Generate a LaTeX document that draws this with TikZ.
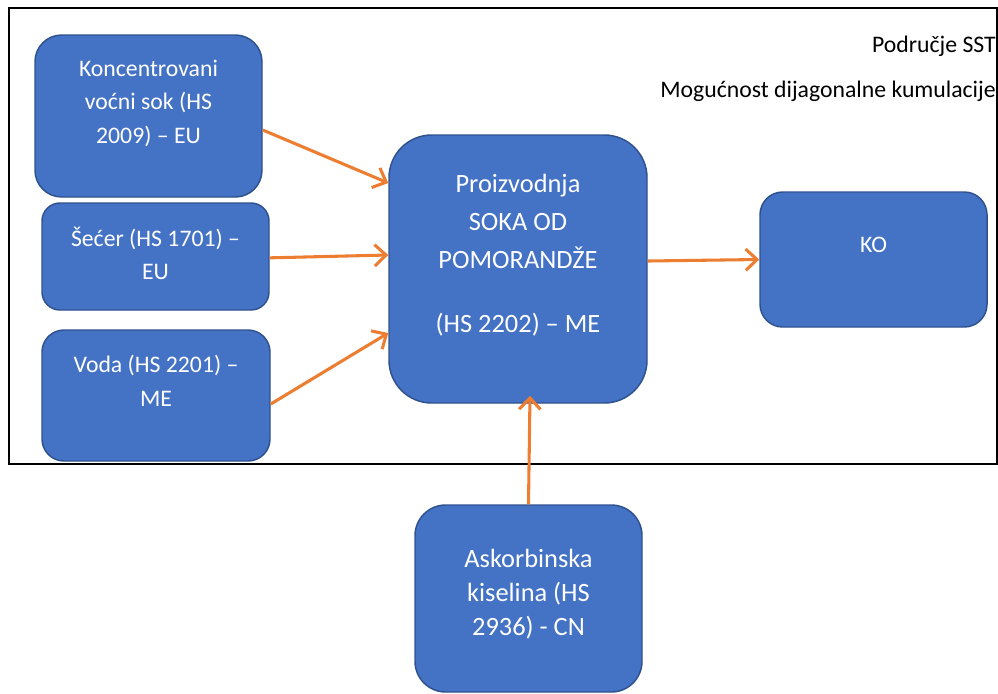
\documentclass[tikz,border=0pt]{standalone}
\usepackage{fontspec}
\setmainfont{Carlito}
\usetikzlibrary{arrows.meta}
\definecolor{boxblue}{HTML}{4472C4}
\definecolor{boxline}{HTML}{2F528F}
\definecolor{floworange}{HTML}{ED7D31}
\begin{document}
\begin{tikzpicture}[
  x=0.75pt,y=-0.75pt,
  box/.style={draw=boxline,fill=boxblue,line width=1.1pt,inner sep=0pt},
  boxtext/.style={text=white,align=center,inner sep=0pt,
    font=\fontsize{17.8}{25}\selectfont},
  flow/.style={draw=floworange,line width=2.3pt,
    -{Straight Barb[length=8.5pt,width=16pt,line width=2.3pt]}},
  ]
  \useasboundingbox (0,0) rectangle (998,693);
  % outer frame
  \draw[line width=1.6pt] (9,8) rectangle (997,464);
  \node(podrucje)[boxtext,text=black,anchor=east] at (996,46) {Područje SST};
  \node(kumulacija)[boxtext,text=black,anchor=east] at (996,91) {Mogućnost dijagonalne kumulacije};
  % inputs
  \node(konc)[box,rounded corners=20pt,minimum width={227*0.75pt},minimum height={162*0.75pt},
  label={[boxtext,yshift=9.5pt]center:{Koncentrovani\\voćni sok (HS\\2009) – EU}}] at (148.5,116) {};
  \node(secer)[box,rounded corners=13.5pt,minimum width={227*0.75pt},minimum height={107*0.75pt},
  label={[boxtext,yshift=2.5pt]center:{Šećer (HS 1701) –\\EU}}] at (155.5,256.5) {};
  \node(voda)[box,rounded corners=16.5pt,minimum width={228*0.75pt},minimum height={131*0.75pt},
  label={[boxtext,yshift=11pt]center:{Voda (HS 2201) –\\ME}}] at (156,395.5) {};
  % production
  \node(proiz)[box,rounded corners=32pt,minimum width={258*0.75pt},minimum height={268*0.75pt},
  label={[boxtext,yshift=10.5pt,font=\fontsize{19.8}{28.5}\selectfont]center:{Proizvodnja\\SOKA OD\\POMORANDŽE\\[-9pt]\\(HS 2202) – ME}}] at (518,269) {};
  \node(ko)[box,rounded corners=17pt,minimum width={227*0.75pt},minimum height={135*0.75pt},
  label={[boxtext,yshift=11pt]center:{KO}}] at (873.5,259.5) {};
  \node(askorb)[box,rounded corners=23pt,minimum width={227*0.75pt},minimum height={187*0.75pt},
  label={[boxtext,yshift=3.5pt,font=\fontsize{19.8}{25.5}\selectfont]center:{Askorbinska\\kiselina (HS\\2936) - CN}}] at (528.5,598.5) {};
  % connectors
  \draw[flow] ([yshift=-10.5pt]konc.east) -- ([yshift=64.5pt]proiz.west);
  \draw[flow] ([yshift=-1pt]secer.east) -- ([yshift=10.5pt]proiz.west);
  \draw[flow] ([yshift=-6.4pt]voda.east) -- ([yshift=-48pt]proiz.west);
  \draw[flow] ([yshift=6pt]proiz.east) -- (ko.west);
  \draw[flow] (askorb.north) -- ([xshift=9pt,yshift=6pt]proiz.south);
\end{tikzpicture}
\end{document}
